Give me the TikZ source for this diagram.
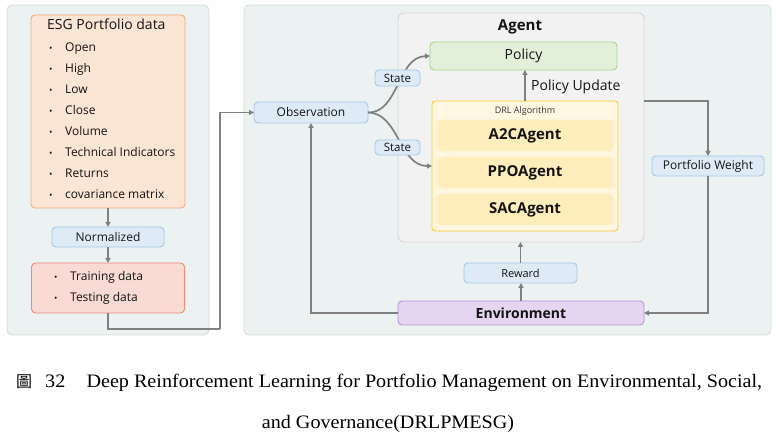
\documentclass[tikz,border=0pt]{standalone}
\usepackage{fontspec}
\setmainfont{Open Sans}
\newfontfamily\capfont{Liberation Serif}
\newfontfamily\cjk{Noto Sans CJK TC}
\usetikzlibrary{arrows.meta}
\definecolor{panelfill}{HTML}{EBF2F1}
\definecolor{paneldraw}{HTML}{D3DCDA}
\definecolor{orfill}{HTML}{FBE5D5}
\definecolor{ordraw}{HTML}{F4A878}
\definecolor{blfill}{HTML}{DEEAF6}
\definecolor{bldraw}{HTML}{A3C8EA}
\definecolor{pkfill}{HTML}{FADAD4}
\definecolor{pkdraw}{HTML}{EC8A74}
\definecolor{agfill}{HTML}{F2F2F2}
\definecolor{agdraw}{HTML}{D6D6D6}
\definecolor{grfill}{HTML}{E2F0D9}
\definecolor{grdraw}{HTML}{A9D18E}
\definecolor{ylfill}{HTML}{FFF7E2}
\definecolor{yldraw}{HTML}{FFC928}
\definecolor{ylsub}{HTML}{FFEEBC}
\definecolor{pufill}{HTML}{E5D5F1}
\definecolor{pudraw}{HTML}{B793D3}
\definecolor{conn}{HTML}{808080}
\definecolor{txt}{HTML}{141414}
\tikzset{
  box/.style={rounded corners=4pt, line width=0.9pt, inner sep=0pt, outer sep=0pt, text=txt},
  panel/.style={box, fill=panelfill, draw=paneldraw, rounded corners=5pt},
  bluebox/.style={box, fill=blfill, draw=bldraw, font=\fontsize{12}{14}\selectfont},
  conn/.style={draw=conn, line width=1.7pt, -{Triangle[length=5pt,width=5pt]}},
  plain/.style={draw=conn, line width=1.7pt},
  item/.style={anchor=base west, inner sep=0pt, text=txt, font=\fontsize{12}{14}\selectfont},
  subag/.style={box, fill=ylsub, draw=ylsub!80!white, rounded corners=3pt, font=\fontsize{15}{17}\selectfont\bfseries, minimum width=176, minimum height=31},
  captxt/.style={inner sep=0pt, text=black, font=\fontsize{19}{21}\selectfont\capfont},
}
\newcommand{\bul}{\makebox[16pt][l]{\fontsize{9}{10}\selectfont\textbullet}}
\begin{document}
\begin{tikzpicture}[x=1pt,y=-1pt]
\useasboundingbox[fill=white] (0,0) rectangle (782,446);
% panels
\node[panel, minimum width=202, minimum height=330] (lp) at (108,170) {};
\node[panel, minimum width=527, minimum height=330] (rp) at (507.5,170) {};
% left side
\node[box, fill=orfill, draw=ordraw, minimum width=154, minimum height=193] (esg) at (108,111.5) {};
\node[item, font=\fontsize{14}{16}\selectfont] (esgt) at (47,30) {ESG Portfolio data};
\foreach \t [count=\i] in {Open,High,Low,Close,Volume,Technical Indicators,Returns,covariance matrix}{
  \node[item] (esg\i) at (49,{31+21*\i}) {\bul\t};
}
\node[bluebox, minimum width=112, minimum height=20] (norm) at (108,237) {Normalized};
\node[box, fill=pkfill, draw=pkdraw, minimum width=153, minimum height=50] (train) at (108,288) {};
\node[item] (tr1) at (54,280.5) {\bul Training data};
\node[item] (tr2) at (54,301.5) {\bul Testing data};
\draw[conn] (esg.south) -- (norm.north);
\draw[conn] (norm.south) -- (train.north);
% right side
\node[box, fill=agfill, draw=agdraw, rounded corners=6pt, minimum width=246, minimum height=229] (agent) at (521,127.5) {};
\node[inner sep=0pt, text=txt, font=\fontsize{15}{17}\selectfont\bfseries] (agt) at (520,27) {Agent};
\node[box, fill=grfill, draw=grdraw, minimum width=187, minimum height=28, font=\fontsize{14}{16}\selectfont] (pol) at (523.5,56) {Policy};
\node[box, fill=ylfill, draw=yldraw, rounded corners=3pt, minimum width=186, minimum height=130] (drl) at (525,166) {};
\node[inner sep=0pt, text=txt!85, font=\fontsize{9}{10}\selectfont] (drlt) at (525,111) {DRL Algorithm};
\node[subag] (a2c) at (525,135.5) {A2CAgent};
\node[subag] (ppo) at (525,172.5) {PPOAgent};
\node[subag] (sac) at (525,209.5) {SACAgent};
\node[bluebox, minimum width=114, minimum height=21] (obs) at (311,112.5) {Observation};
\node[bluebox, minimum width=113, minimum height=20, font=\fontsize{11}{13}\selectfont] (rew) at (520.5,273) {Reward};
\node[box, fill=pufill, draw=pudraw, minimum width=246, minimum height=24, font=\fontsize{14}{16}\selectfont\bfseries] (env) at (521,313) {Environment};
\node[bluebox, minimum width=112, minimum height=20] (pw) at (708,166) {Portfolio Weight};
\coordinate (c1) at (220,329);
\draw[plain] (train.south) |- (c1);
\draw[conn] (c1) |- (obs.west);
\draw[conn] (obs.east) .. controls (399,113) and (397,57) .. (pol.west);
\draw[conn] (obs.east) .. controls (399,113) and (399,166) .. (drl.west);
\node[bluebox, minimum width=45, minimum height=16, font=\fontsize{11.5}{13}\selectfont] (st1) at (397.5,78) {State};
\node[bluebox, minimum width=45, minimum height=15, font=\fontsize{11.5}{13}\selectfont] (st2) at (397.5,147.5) {State};
\draw[conn] (drl.north) -- (drl.north |- pol.south);
\node[anchor=west, inner sep=0pt, text=txt, font=\fontsize{14}{16}\selectfont] (pu) at (531,87) {Policy Update};
\draw[conn] (env.north) -- (env.north |- rew.south);
\draw[conn] (rew.north) -- (rew.north |- agent.south);
\draw[conn] (env.west) -| (obs.south);
\coordinate (c2) at (agent.east |- drl.north);
\draw[conn] (c2) -| (pw.north);
\draw[conn] (pw.south) |- (env.east);
% caption
\node[captxt, anchor=base west] (cap0) at (16,387) {\cjk\fontsize{16}{18}\selectfont 圖};
\node[captxt, anchor=base west] (cap1) at (45,387)
  {\scalebox{1.06}[1]{32\hspace{20pt}Deep Reinforcement Learning for Portfolio Management on Environmental, Social,}};
\node[captxt, anchor=base] (cap2) at (388,428)
  {\scalebox{1.06}[1]{and Governance(DRLPMESG)}};
\end{tikzpicture}
\end{document}
